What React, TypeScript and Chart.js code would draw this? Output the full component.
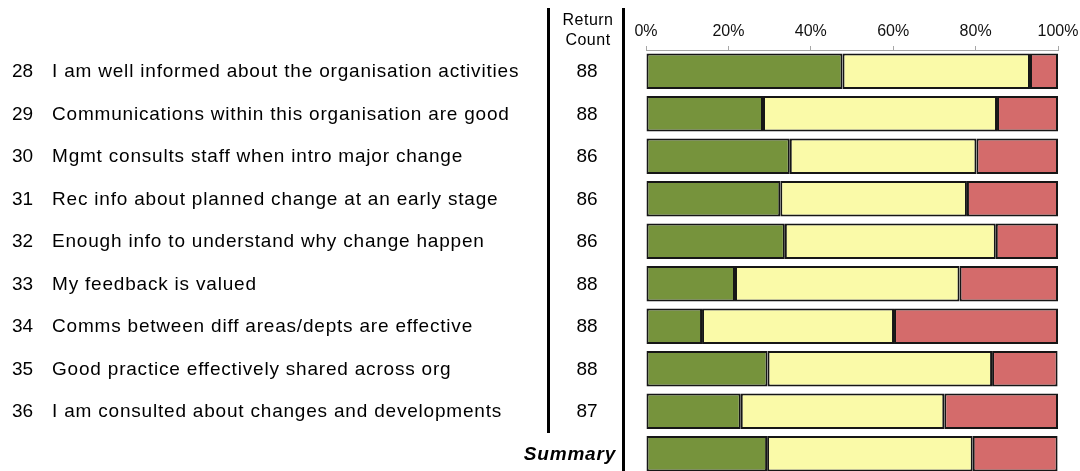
import React, { useEffect, useRef } from "react";
import { Chart, registerables } from "chart.js";

Chart.register(...registerables);

const questionNumbers = ["28", "29", "30", "31", "32", "33", "34", "35", "36", ""];
const questionTexts = [
  "I am well informed about the organisation activities",
  "Communications within this organisation are good",
  "Mgmt consults staff when intro major change",
  "Rec info about planned change at an early stage",
  "Enough info to understand why change happen",
  "My feedback is valued",
  "Comms between diff areas/depts are effective",
  "Good practice effectively shared across org",
  "I am consulted about changes and developments",
  "Summary",
];
const returnCounts = ["88", "88", "86", "86", "86", "88", "88", "88", "87", ""];

const positiveValues = [47.7, 28.4, 34.9, 32.6, 33.7, 21.6, 13.6, 29.5, 23.0, 29.4];
const neutralValues = [45.5, 56.8, 45.3, 45.3, 51.2, 54.5, 46.6, 54.5, 49.4, 49.9];
const negativeValues = [6.8, 14.8, 19.8, 22.1, 15.1, 23.9, 39.8, 15.9, 27.6, 20.6];

const xTicks = [0, 20, 40, 60, 80, 100];

const FONT = "'Liberation Sans', Arial, sans-serif";

const tablePlugin = {
  id: "leftTable",
  afterDraw(chart: any) {
    const ctx = chart.ctx as any;
    const yScale = chart.scales.y;
    ctx.save();
    ctx.fillStyle = "#000";
    // vertical lines
    ctx.fillRect(547, 8, 3, 425);
    ctx.fillRect(622, 8, 3, 480);
    // header
    ctx.font = `16px ${FONT}`;
    ctx.letterSpacing = "0.5px";
    ctx.textAlign = "center";
    ctx.textBaseline = "middle";
    ctx.fillText("Return", 588, 21);
    ctx.fillText("Count", 588, 41);
    ctx.letterSpacing = "0.8px";
    for (let i = 0; i < questionTexts.length; i++) {
      const y = yScale.getPixelForValue(i) + 1;
      if (questionNumbers[i] === "") {
        ctx.font = `italic bold 19px ${FONT}`;
        ctx.textAlign = "right";
        ctx.fillText(questionTexts[i], 616, y);
        continue;
      }
      ctx.font = `19px ${FONT}`;
      ctx.textAlign = "left";
      ctx.letterSpacing = "0px";
      ctx.fillText(questionNumbers[i], 12, y);
      ctx.letterSpacing = "0.8px";
      ctx.fillText(questionTexts[i], 52, y);
      ctx.letterSpacing = "0px";
      ctx.textAlign = "center";
      ctx.fillText(returnCounts[i], 587, y);
      ctx.letterSpacing = "0.8px";
    }
    ctx.restore();
  },
};

export default function App() {
  const ref = useRef<HTMLCanvasElement>(null);
  useEffect(() => {
    document.body.style.margin = "0";
    document.documentElement.style.overflow = "hidden";
    const canvas = ref.current!;
    const barOpts = {
      borderColor: "#161616",
      borderWidth: 2,
      borderSkipped: false,
      barPercentage: 0.83,
      categoryPercentage: 1,
    };
    const chart = new Chart(canvas, {
      type: "bar",
      data: {
        labels: questionTexts,
        datasets: [
          { label: "Positive", data: positiveValues, backgroundColor: "#76933C", ...barOpts },
          { label: "Neutral", data: neutralValues, backgroundColor: "#FAFAA8", ...barOpts },
          { label: "Negative", data: negativeValues, backgroundColor: "#D46B6B", ...barOpts },
        ],
      } as any,
      options: {
        indexAxis: "y",
        responsive: false,
        animation: false,
        events: [],
        layout: { padding: { left: 646, right: 22, top: 0, bottom: 0 } },
        plugins: { legend: { display: false }, tooltip: { enabled: false } },
        scales: {
          x: {
            position: "top",
            stacked: true,
            min: 0,
            max: 100,
            afterFit: (scale: any) => {
              scale.height = 50;
              scale.paddingLeft = 0;
              scale.paddingRight = 0;
            },
            afterBuildTicks: (scale: any) => {
              scale.ticks = xTicks.map((v) => ({ value: v }));
            },
            ticks: {
              callback: (v: any) => v + "%",
              font: { family: FONT, size: 16 },
              color: "#111",
              padding: 5,
              maxRotation: 0,
            },
            grid: { drawOnChartArea: false, drawTicks: true, tickLength: 4, color: "#a6a6a6" },
            border: { display: true, color: "#a6a6a6", width: 1 },
          },
          y: {
            stacked: true,
            display: false,
          },
        },
      } as any,
      plugins: [tablePlugin],
    });
    return () => chart.destroy();
  }, []);
  return (
    <div style={{ width: 1080, height: 471, overflow: "hidden" }}>
      <canvas ref={ref} width={1080} height={475} style={{ display: "block" }} />
    </div>
  );
}
